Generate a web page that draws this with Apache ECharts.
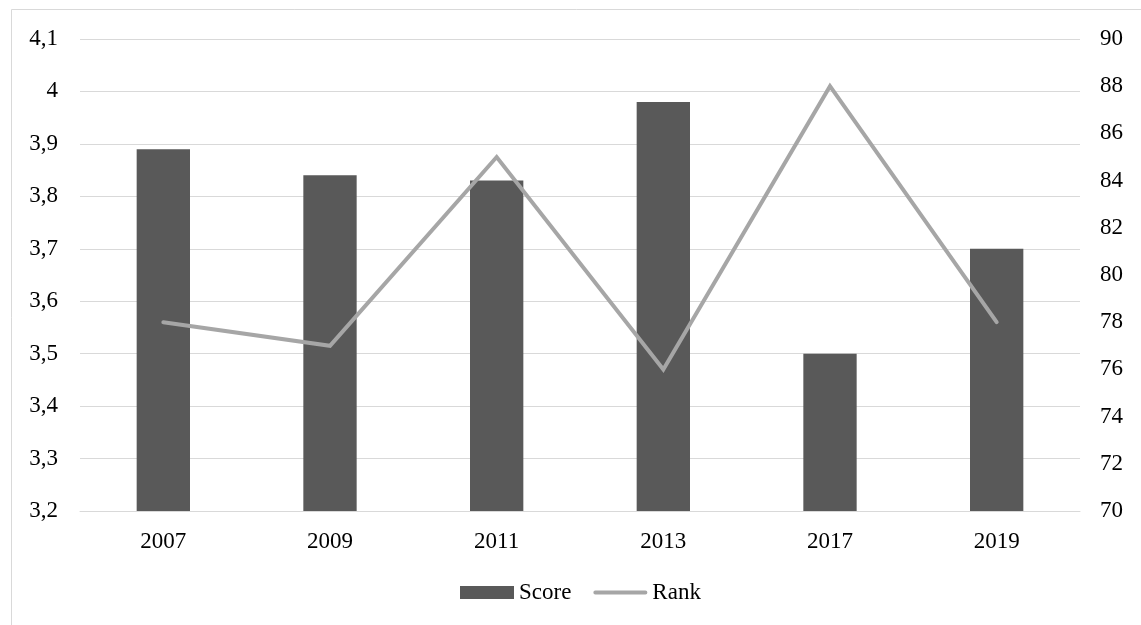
<!DOCTYPE html>
<html>
<head>
<meta charset="utf-8">
<script src="https://cdn.jsdelivr.net/npm/echarts@6/dist/echarts.min.js"></script>
<style>html,body{margin:0;padding:0;background:#fff}#c{width:1141px;height:625px}</style>
</head>
<body>
<div id="c"></div>
<script>
const categories = ['2007', '2009', '2011', '2013', '2017', '2019'];
const scoreValues = [3.89, 3.84, 3.83, 3.98, 3.50, 3.70];
const rankValues = [78, 77, 85, 76, 88, 78];

const chart = echarts.init(document.getElementById('c'), null, {renderer: 'canvas'});
const font = '"Liberation Serif", "Times New Roman", serif';
chart.setOption({
  animation: false,
  backgroundColor: '#fff',
  textStyle: {fontFamily: font},
  graphic: [{
    type: 'rect', x: 11.5, y: 9.5, shape: {x: 0, y: 0, width: 1140, height: 630},
    style: {fill: 'none', stroke: '#d9d9d9', lineWidth: 1}, silent: true, z: -10
  }],
  grid: {left: 80, right: 61, top: 39, bottom: 114, containLabel: false},
  legend: {
    bottom: 16, left: 455, itemGap: 22,
    textStyle: {fontFamily: font, fontSize: 23, color: '#000'},
    data: [
      {name: 'Score', icon: 'rect', itemStyle: {color: '#595959'}},
      {name: 'Rank', icon: 'path://M0,0 L0.01,0 M2,4.5 L54,4.5 A2,2 0 0 1 54,8.5 L2,8.5 A2,2 0 0 1 2,4.5 Z M56,13 L55.99,13',
       itemStyle: {color: '#a6a6a6'}}
    ],
    itemWidth: 54, itemHeight: 13
  },
  xAxis: {
    type: 'category', data: categories,
    axisLine: {show: true, lineStyle: {color: '#d9d9d9', width: 1}},
    axisTick: {show: false},
    axisLabel: {fontFamily: font, fontSize: 23, color: '#000', margin: 19}
  },
  yAxis: [{
    type: 'value', min: 3.2, max: 4.1, interval: 0.1,
    axisLine: {show: false}, axisTick: {show: false},
    splitLine: {lineStyle: {color: '#d9d9d9', width: 1}},
    axisLabel: {fontFamily: font, fontSize: 23, color: '#000', margin: 22,
      formatter: v => (Math.round(v * 10) / 10).toString().replace('.', ',')}
  }, {
    type: 'value', min: 70, max: 90, interval: 2,
    axisLine: {show: false}, axisTick: {show: false},
    splitLine: {show: false},
    axisLabel: {fontFamily: font, fontSize: 23, color: '#000', margin: 20}
  }],
  series: [{
    name: 'Score', type: 'bar', data: scoreValues, yAxisIndex: 0,
    barWidth: '32%', itemStyle: {color: '#595959'}
  }, {
    name: 'Rank', type: 'line', data: rankValues, yAxisIndex: 1,
    symbol: 'none', lineStyle: {color: '#a6a6a6', width: 4, join: 'miter', cap: 'round'},
    itemStyle: {color: '#a6a6a6'}
  }]
});
</script>
</body>
</html>
